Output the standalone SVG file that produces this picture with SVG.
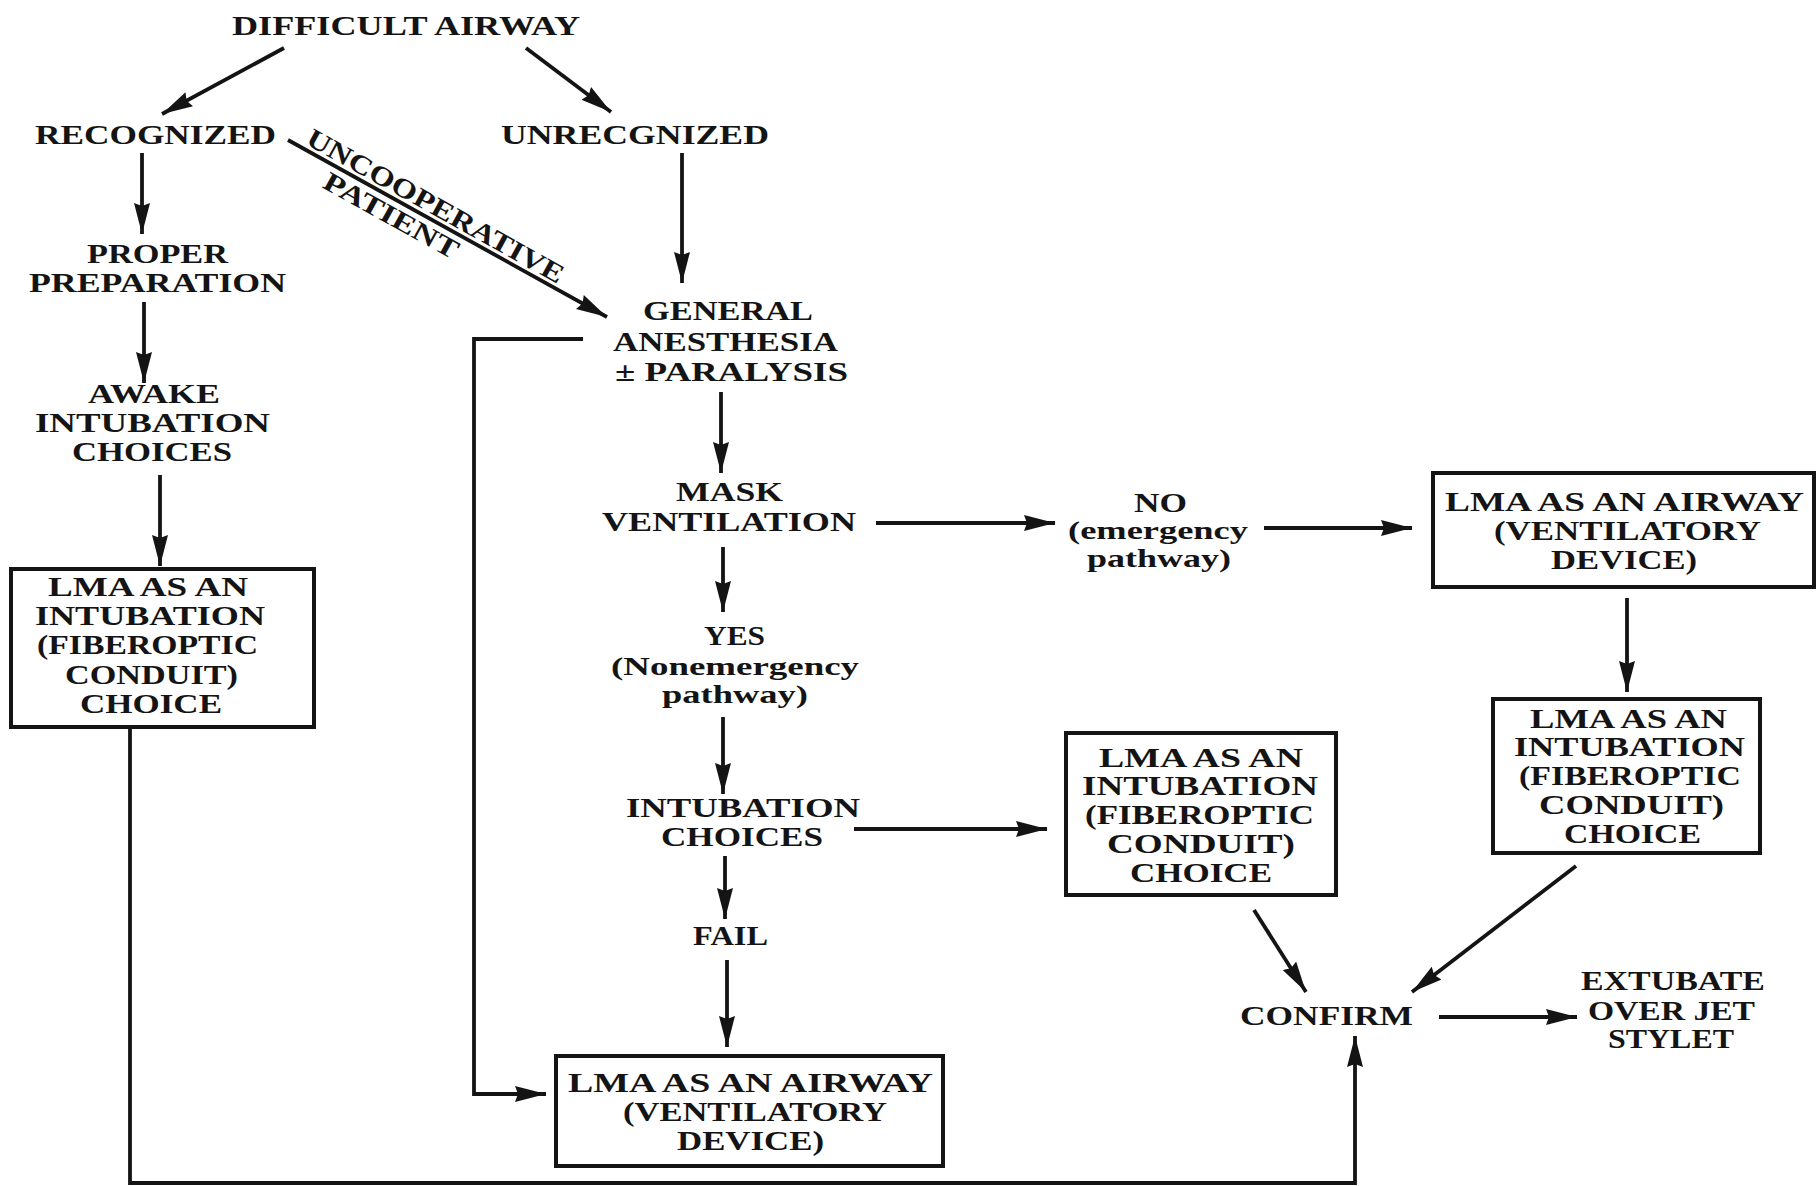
<svg xmlns="http://www.w3.org/2000/svg" width="1818" height="1186" viewBox="0 0 1818 1186">
<style>
text{font-family:"Liberation Serif","Times New Roman",serif;font-weight:bold;font-size:27px;fill:#141414;}
.lc{font-size:26px;}
.box{fill:none;stroke:#141414;stroke-width:4;}
.ln{fill:none;stroke:#141414;stroke-width:3.8;}
</style>
<defs>
<marker id="ah" markerUnits="userSpaceOnUse" markerWidth="34" markerHeight="18" refX="31" refY="8" orient="auto">
<path d="M0,0 L31,8 L0,16 L3,8 z" fill="#141414"/>
</marker>
</defs>
<rect width="1818" height="1186" fill="#ffffff"/>

<g id="connectors">
<line class="ln" x1="284" y1="48" x2="162" y2="114" marker-end="url(#ah)"/>
<line class="ln" x1="526" y1="48" x2="611" y2="112" marker-end="url(#ah)"/>
<line class="ln" x1="142" y1="153" x2="142" y2="234" marker-end="url(#ah)"/>
<line class="ln" x1="144" y1="302" x2="144" y2="383" marker-end="url(#ah)"/>
<line class="ln" x1="160" y1="475" x2="160" y2="566" marker-end="url(#ah)"/>
<line class="ln" x1="288" y1="140" x2="607" y2="317" stroke-width="4.5" marker-end="url(#ah)"/>
<line class="ln" x1="682" y1="153" x2="682" y2="283" marker-end="url(#ah)"/>
<line class="ln" x1="721" y1="392" x2="721" y2="473" marker-end="url(#ah)"/>
<line class="ln" x1="876" y1="523" x2="1055" y2="523" marker-end="url(#ah)"/>
<line class="ln" x1="1264" y1="528" x2="1412" y2="528" marker-end="url(#ah)"/>
<line class="ln" x1="723" y1="547" x2="723" y2="612" marker-end="url(#ah)"/>
<line class="ln" x1="723" y1="717" x2="723" y2="794" marker-end="url(#ah)"/>
<line class="ln" x1="854" y1="829" x2="1047" y2="829" marker-end="url(#ah)"/>
<line class="ln" x1="725" y1="856" x2="725" y2="919" marker-end="url(#ah)"/>
<line class="ln" x1="727" y1="960" x2="727" y2="1047" marker-end="url(#ah)"/>
<polyline class="ln" points="583,339 474,339 474,1094 546,1094" marker-end="url(#ah)"/>
<line class="ln" x1="1627" y1="598" x2="1627" y2="692" marker-end="url(#ah)"/>
<line class="ln" x1="1254" y1="910" x2="1306" y2="992" marker-end="url(#ah)"/>
<line class="ln" x1="1576" y1="866" x2="1412" y2="992" marker-end="url(#ah)"/>
<line class="ln" x1="1439" y1="1017" x2="1577" y2="1017" marker-end="url(#ah)"/>
<polyline class="ln" points="130,727 130,1183 1355,1183 1355,1036" marker-end="url(#ah)"/>
<g transform="translate(288,140) rotate(29.02)">
<text x="16" y="-5" textLength="290" lengthAdjust="spacingAndGlyphs" font-size="25">UNCOOPERATIVE</text>
<text x="52" y="25" textLength="150" lengthAdjust="spacingAndGlyphs" font-size="25">PATIENT</text>
</g>
</g>

<g id="n-difficult"><text x="232" y="35" textLength="348" lengthAdjust="spacingAndGlyphs">DIFFICULT AIRWAY</text></g>
<g id="n-recognized"><text x="35" y="144" textLength="241" lengthAdjust="spacingAndGlyphs">RECOGNIZED</text></g>
<g id="n-unrecognized"><text x="501" y="144" textLength="268" lengthAdjust="spacingAndGlyphs">UNRECGNIZED</text></g>
<g id="n-proper">
<text x="87" y="263" textLength="141" lengthAdjust="spacingAndGlyphs">PROPER</text>
<text x="29" y="292" textLength="257" lengthAdjust="spacingAndGlyphs">PREPARATION</text>
</g>
<g id="n-awake">
<text x="88" y="403" textLength="132" lengthAdjust="spacingAndGlyphs">AWAKE</text>
<text x="35" y="432" textLength="235" lengthAdjust="spacingAndGlyphs">INTUBATION</text>
<text x="72" y="461" textLength="160" lengthAdjust="spacingAndGlyphs">CHOICES</text>
</g>
<g id="n-lma-left">
<rect class="box" x="11" y="569" width="303" height="158"/>
<text x="48" y="596" textLength="200" lengthAdjust="spacingAndGlyphs">LMA AS AN</text>
<text x="35" y="625" textLength="230" lengthAdjust="spacingAndGlyphs">INTUBATION</text>
<text x="37" y="654" textLength="221" lengthAdjust="spacingAndGlyphs">(FIBEROPTIC</text>
<text x="65" y="684" textLength="173" lengthAdjust="spacingAndGlyphs">CONDUIT)</text>
<text x="80" y="713" textLength="142" lengthAdjust="spacingAndGlyphs">CHOICE</text>
</g>
<g id="n-general">
<text x="643" y="320" textLength="170" lengthAdjust="spacingAndGlyphs">GENERAL</text>
<text x="613" y="351" textLength="225" lengthAdjust="spacingAndGlyphs">ANESTHESIA</text>
<text x="615" y="381" textLength="233" lengthAdjust="spacingAndGlyphs">± PARALYSIS</text>
</g>
<g id="n-mask">
<text x="676" y="501" textLength="107" lengthAdjust="spacingAndGlyphs">MASK</text>
<text x="602" y="531" textLength="254" lengthAdjust="spacingAndGlyphs">VENTILATION</text>
</g>
<g id="n-yes">
<text x="704" y="645" textLength="61" lengthAdjust="spacingAndGlyphs">YES</text>
<text class="lc" x="611" y="675" textLength="248" lengthAdjust="spacingAndGlyphs">(Nonemergency</text>
<text class="lc" x="662" y="703" textLength="146" lengthAdjust="spacingAndGlyphs">pathway)</text>
</g>
<g id="n-intubation">
<text x="626" y="817" textLength="234" lengthAdjust="spacingAndGlyphs">INTUBATION</text>
<text x="661" y="846" textLength="162" lengthAdjust="spacingAndGlyphs">CHOICES</text>
</g>
<g id="n-fail"><text x="693" y="945" textLength="75" lengthAdjust="spacingAndGlyphs">FAIL</text></g>
<g id="n-lma-bottom">
<rect class="box" x="556" y="1056" width="387" height="110"/>
<text x="568" y="1092" textLength="365" lengthAdjust="spacingAndGlyphs">LMA AS AN AIRWAY</text>
<text x="623" y="1121" textLength="264" lengthAdjust="spacingAndGlyphs">(VENTILATORY</text>
<text x="677" y="1150" textLength="147" lengthAdjust="spacingAndGlyphs">DEVICE)</text>
</g>
<g id="n-no">
<text x="1134" y="512" textLength="53" lengthAdjust="spacingAndGlyphs">NO</text>
<text class="lc" x="1068" y="539" textLength="180" lengthAdjust="spacingAndGlyphs">(emergency</text>
<text class="lc" x="1087" y="567" textLength="144" lengthAdjust="spacingAndGlyphs">pathway)</text>
</g>
<g id="n-lma-right-top">
<rect class="box" x="1433" y="473" width="381" height="114"/>
<text x="1445" y="511" textLength="359" lengthAdjust="spacingAndGlyphs">LMA AS AN AIRWAY</text>
<text x="1494" y="540" textLength="267" lengthAdjust="spacingAndGlyphs">(VENTILATORY</text>
<text x="1551" y="569" textLength="146" lengthAdjust="spacingAndGlyphs">DEVICE)</text>
</g>
<g id="n-lma-right-mid">
<rect class="box" x="1493" y="699" width="267" height="154"/>
<text x="1530" y="728" textLength="197" lengthAdjust="spacingAndGlyphs">LMA AS AN</text>
<text x="1514" y="756" textLength="231" lengthAdjust="spacingAndGlyphs">INTUBATION</text>
<text x="1519" y="785" textLength="222" lengthAdjust="spacingAndGlyphs">(FIBEROPTIC</text>
<text x="1539" y="814" textLength="185" lengthAdjust="spacingAndGlyphs">CONDUIT)</text>
<text x="1564" y="843" textLength="137" lengthAdjust="spacingAndGlyphs">CHOICE</text>
</g>
<g id="n-lma-mid">
<rect class="box" x="1066" y="733" width="270" height="162"/>
<text x="1099" y="767" textLength="204" lengthAdjust="spacingAndGlyphs">LMA AS AN</text>
<text x="1082" y="795" textLength="236" lengthAdjust="spacingAndGlyphs">INTUBATION</text>
<text x="1085" y="824" textLength="229" lengthAdjust="spacingAndGlyphs">(FIBEROPTIC</text>
<text x="1107" y="853" textLength="188" lengthAdjust="spacingAndGlyphs">CONDUIT)</text>
<text x="1130" y="882" textLength="142" lengthAdjust="spacingAndGlyphs">CHOICE</text>
</g>
<g id="n-confirm"><text x="1240" y="1025" textLength="173" lengthAdjust="spacingAndGlyphs">CONFIRM</text></g>
<g id="n-extubate">
<text x="1581" y="990" textLength="184" lengthAdjust="spacingAndGlyphs">EXTUBATE</text>
<text x="1588" y="1020" textLength="167" lengthAdjust="spacingAndGlyphs">OVER JET</text>
<text x="1608" y="1048" textLength="126" lengthAdjust="spacingAndGlyphs">STYLET</text>
</g>
</svg>
